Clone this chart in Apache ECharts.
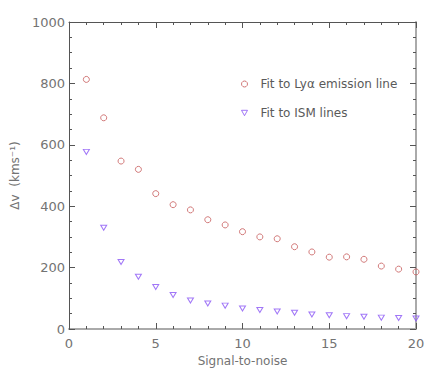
<!DOCTYPE html>
<html>
<head>
<meta charset="utf-8">
<script src="https://cdn.jsdelivr.net/npm/echarts@6/dist/echarts.min.js"></script>
<style>
  html, body { margin: 0; padding: 0; background: #fff; }
  #chart { width: 436px; height: 374px; }
</style>
</head>
<body>
<div id="chart"></div>
<script>
  // signal-to-noise bins
  var snr = [1, 2, 3, 4, 5, 6, 7, 8, 9, 10, 11, 12, 13, 14, 15, 16, 17, 18, 19, 20];
  // Δv from Lyα fit
  var lyaFit = [813, 688, 547, 520, 441, 405, 388, 356, 339, 317, 300, 294, 268, 251, 234, 235, 227, 205, 195, 186];
  // Δv from ISM lines fit
  var ismFit = [577, 330, 218, 170, 137, 111, 93, 83, 76, 67, 62, 57, 53, 47, 45, 42, 40, 37, 36, 34];

  var lyaName = 'Fit to Lyα emission line';
  var ismName = 'Fit to ISM lines';

  var txt = { color: '#737373', fontSize: 12, fontFamily: 'DejaVu Sans' };
  var tri = 'path://M0,0 L10,0 L5,9 Z';
  var ring = 'path://M5,0 A5,5 0 1 1 4.99,0 Z';

  function pairs(xs, ys) {
    var out = [];
    for (var i = 0; i < xs.length; i++) out.push([xs[i], ys[i]]);
    return out;
  }

  function axisBase(pos, show, lineColor, lineWidth, min, max, step, minorSplit) {
    return {
      type: 'value',
      position: pos,
      min: min,
      max: max,
      interval: step,
      axisLine: { show: true, onZero: false, lineStyle: { color: lineColor, width: lineWidth } },
      axisTick: { show: true, inside: true, length: 6, lineStyle: { color: '#555', width: 1 } },
      minorTick: { show: true, splitNumber: minorSplit, length: 3, lineStyle: { color: '#555', width: 1 } },
      axisLabel: {
        show: show, margin: 6,
        color: txt.color, fontSize: 13, fontFamily: txt.fontFamily,
        formatter: function (v) { return String(v); }
      },
      splitLine: { show: false }
    };
  }

  var xBottom = axisBase('bottom', true, '#aaa', 2, 0, 20, 5, 5);
  xBottom.axisLabel.margin = 8;
  xBottom.name = 'Signal-to-noise';
  xBottom.nameLocation = 'middle';
  xBottom.nameGap = 23;
  xBottom.nameTextStyle = txt;

  var xTop = axisBase('top', false, '#555', 1, 0, 20, 5, 5);

  var yLeft = axisBase('left', true, '#555', 1, 0, 1000, 200, 4);
  yLeft.axisLabel.margin = 4;
  yLeft.name = 'Δv  (kms⁻¹)';
  yLeft.nameLocation = 'middle';
  yLeft.nameRotate = 90;
  yLeft.nameGap = 38;
  yLeft.nameTextStyle = txt;

  var yRight = axisBase('right', false, '#aaa', 2, 0, 1000, 200, 4);

  var chart = echarts.init(document.getElementById('chart'), null, { renderer: 'svg' });
  chart.setOption({
    animation: false,
    backgroundColor: '#fff',
    grid: { left: 69, right: 20, top: 22, bottom: 45 },
    legend: {
      orient: 'vertical',
      left: 236,
      top: 73,
      itemGap: 17,
      itemWidth: 6,
      itemHeight: 6,
      itemStyle: { color: 'rgba(0,0,0,0)', borderWidth: 1 },
      textStyle: { color: '#5a5a5a', fontSize: 12, fontFamily: 'DejaVu Sans', padding: [0, 0, 0, 8] },
      data: [
        { name: lyaName, itemStyle: { borderColor: '#c75a5a' } },
        { name: ismName, itemStyle: { borderColor: '#8a55f5' } }
      ]
    },
    xAxis: [xBottom, xTop],
    yAxis: [yLeft, yRight],
    series: [
      {
        name: lyaName,
        type: 'scatter',
        symbol: ring,
        symbolSize: 6,
        itemStyle: { color: 'rgba(0,0,0,0)', borderColor: '#c75a5a', borderWidth: 1 },
        data: pairs(snr, lyaFit)
      },
      {
        name: ismName,
        type: 'scatter',
        symbol: tri,
        symbolSize: [6, 5],
        itemStyle: { color: 'rgba(0,0,0,0)', borderColor: '#8a55f5', borderWidth: 1 },
        data: pairs(snr, ismFit)
      }
    ]
  });
</script>
</body>
</html>
